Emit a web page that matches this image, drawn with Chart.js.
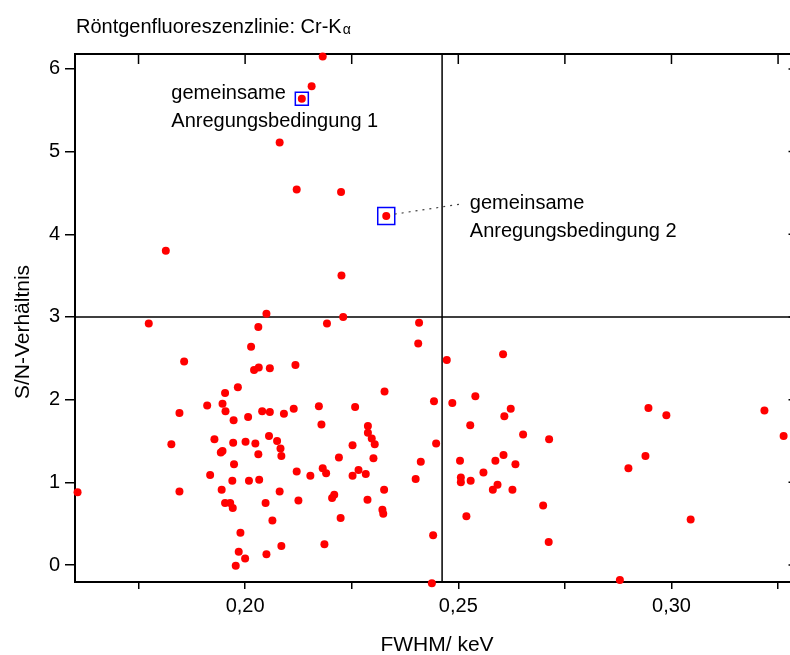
<!DOCTYPE html>
<html>
<head>
<meta charset="utf-8">
<script src="https://cdn.jsdelivr.net/npm/chart.js@4/dist/chart.umd.min.js"></script>
<style>
  body { margin: 0; background: #fff; overflow: hidden; }
</style>
</head>
<body>
<canvas id="myChart" width="790" height="655"></canvas>
<script>
// FWHM (keV) and S/N ratio of each measurement
const fwhm = [
  0.2182, 0.2156, 0.2133, 0.2081, 0.2121, 0.2225, 0.2331, 0.2226, 0.1814, 0.1774,
  0.2050, 0.2031, 0.2014, 0.1857, 0.2021, 0.2032, 0.2058, 0.2118, 0.1983, 0.1953,
  0.1911, 0.1947, 0.1954, 0.1846, 0.1973, 0.2007, 0.2040, 0.2058, 0.2091, 0.2114,
  0.2056, 0.2230, 0.2192, 0.2173, 0.2258, 0.2179, 0.2288, 0.2288, 0.2297, 0.2304,
  0.2252, 0.2301, 0.2220, 0.1928, 0.1972, 0.2001, 0.2024, 0.2075, 0.2083, 0.2085,
  0.2031, 0.1943, 0.1947, 0.1974, 0.1918, 0.1970, 0.2009, 0.2033, 0.2121, 0.2153,
  0.2182, 0.2190, 0.2266, 0.2252, 0.2283, 0.1846, 0.1945, 0.2081, 0.1953, 0.1965,
  0.1971, 0.2048, 0.2125, 0.2204, 0.2209, 0.2287, 0.2064, 0.2224, 0.1989, 0.2085,
  0.2186, 0.1985, 0.2000, 0.2050, 0.1978, 0.1607, 0.1827, 0.2408, 0.2406, 0.2473,
  0.2605, 0.2327, 0.2443, 0.2486, 0.2540, 0.2623, 0.2608, 0.2528, 0.2652, 0.2713,
  0.2448, 0.2412, 0.2400, 0.2326, 0.2322, 0.2324, 0.2504, 0.2506, 0.2506, 0.2529,
  0.2559, 0.2587, 0.2606, 0.2634, 0.2581, 0.2592, 0.2627, 0.2699, 0.2519, 0.2441,
  0.2712, 0.2438, 0.2946, 0.2988, 0.3218, 0.3263, 0.2939, 0.2899, 0.3045, 0.2879
];
const snRatio = [
  6.15, 5.79, 5.64, 5.11, 4.54, 4.51, 4.22, 3.50, 3.80, 2.92,
  3.04, 2.88, 2.64, 2.46, 2.36, 2.39, 2.38, 2.42, 2.15, 2.08,
  1.93, 1.95, 1.86, 1.84, 1.75, 1.79, 1.86, 1.85, 1.83, 1.89,
  1.56, 3.00, 2.92, 1.92, 1.91, 1.70, 1.68, 1.60, 1.53, 1.46,
  1.45, 1.29, 1.30, 1.52, 1.48, 1.49, 1.47, 1.50, 1.41, 1.32,
  1.34, 1.36, 1.38, 1.22, 1.09, 1.02, 1.02, 1.03, 1.13, 1.08,
  1.17, 1.11, 1.15, 1.08, 1.10, 0.89, 0.91, 0.89, 0.75, 0.75,
  0.69, 0.75, 0.78, 0.81, 0.85, 0.79, 0.54, 0.57, 0.39, 0.23,
  0.25, 0.16, 0.08, 0.13, -0.01, 0.88, 1.46, 2.93, 2.68, 2.48,
  2.55, 2.10, 1.98, 1.96, 2.04, 1.89, 1.80, 1.69, 1.58, 1.52,
  1.47, 1.25, 1.04, 0.91, 0.67, 0.62, 1.26, 1.06, 1.00, 1.02,
  1.12, 1.26, 1.33, 1.22, 0.91, 0.97, 0.91, 0.72, 0.59, 0.36,
  0.28, -0.22, 1.90, 1.81, 1.87, 1.56, 1.32, 1.17, 0.55, -0.18
];
// the two points with common excitation conditions (index into the arrays above)
const markedIdx = [2, 6];
const markedLabels = [
  ["gemeinsame", "Anregungsbedingung 1"],
  ["gemeinsame", "Anregungsbedingung 2"]
];

const xTickVals = [0.175, 0.2, 0.225, 0.25, 0.275, 0.3, 0.325];
const xTickLabels = ["", "0,20", "", "0,25", "", "0,30", ""];
const yTickVals = [0, 1, 2, 3, 4, 5, 6];
const yTickLabels = ["0", "1", "2", "3", "4", "5", "6"];

// threshold lines
const refX = 0.2462;
const refY = 3;
// the plot frame runs a little past the visible picture on the right
const xFrameMax = 0.3298;

const FONT = "'Liberation Sans', Arial, sans-serif";

const points = fwhm.map((v, i) => ({ x: v, y: snRatio[i] }));
const marked = markedIdx.map(i => points[i]);

// text anchors (data coords) and the box sizes
const notes = [
  { x: 0.1827, y: 5.63, line: false, box: 13 },
  { x: 0.2527, y: 4.31, line: true, box: 17 }
];

const extras = {
  id: "extras",
  beforeDatasetsDraw(chart) {
    const { ctx, chartArea: a, scales: { x, y } } = chart;
    const rightEdge = x.getPixelForValue(xFrameMax);
    ctx.save();
    ctx.strokeStyle = "#000";
    ctx.lineWidth = 1.5;
    const px = x.getPixelForValue(refX);
    const py = y.getPixelForValue(refY);
    ctx.beginPath();
    ctx.moveTo(px, a.top); ctx.lineTo(px, a.bottom);
    ctx.moveTo(a.left, py); ctx.lineTo(rightEdge, py);
    ctx.stroke();

    // top frame (and bottom axis continued) with inward ticks on top/right
    ctx.lineWidth = 2;
    ctx.beginPath();
    ctx.moveTo(a.left, a.top); ctx.lineTo(rightEdge, a.top);
    ctx.moveTo(a.right - 1, a.bottom); ctx.lineTo(rightEdge, a.bottom);
    ctx.stroke();
    ctx.lineWidth = 1.5;
    ctx.beginPath();
    x.ticks.forEach(t => {
      const p = x.getPixelForValue(t.value);
      ctx.moveTo(p, a.top); ctx.lineTo(p, a.top + 10);
    });
    y.ticks.forEach(t => {
      const p = y.getPixelForValue(t.value);
      ctx.moveTo(rightEdge, p); ctx.lineTo(rightEdge - 10, p);
    });
    ctx.stroke();
    ctx.restore();
  },
  afterDraw(chart) {
    const { ctx, scales: { x, y } } = chart;
    ctx.save();
    ctx.fillStyle = "#000";
    ctx.textAlign = "left";
    ctx.textBaseline = "alphabetic";

    // title with small alpha
    ctx.font = "20px " + FONT;
    const t = "Röntgenfluoreszenzlinie: Cr-K";
    ctx.fillText(t, 76, 33);
    const w = ctx.measureText(t).width;
    ctx.font = "14px " + FONT;
    ctx.fillText("α", 76 + w + 1, 34);

    // annotations
    notes.forEach((n, i) => {
      const tx = x.getPixelForValue(n.x);
      const ty = y.getPixelForValue(n.y);
      ctx.font = "20px " + FONT;
      ctx.fillStyle = "#000";
      markedLabels[i].forEach((s, k) => ctx.fillText(s, tx, ty + k * 28));
      if (n.line) {
        const p = marked[i];
        const mx = x.getPixelForValue(p.x) + n.box / 2;
        const my = y.getPixelForValue(p.y) - 2;
        ctx.strokeStyle = "#444";
        ctx.lineWidth = 1.2;
        ctx.setLineDash([2, 5]);
        ctx.beginPath();
        ctx.moveTo(mx, my);
        ctx.lineTo(tx - 6, ty - 5);
        ctx.stroke();
        ctx.setLineDash([]);
      }
    });

    // axis titles
    ctx.font = "21px " + FONT;
    ctx.textAlign = "center";
    ctx.fillText("FWHM/ keV", 437, 651);
    ctx.translate(23, 332);
    ctx.rotate(-Math.PI / 2);
    ctx.textBaseline = "middle";
    ctx.fillText("S/N-Verhältnis", 0, 0);
    ctx.restore();
  }
};

const canvas = document.getElementById("myChart");
new Chart(canvas, {
  type: "scatter",
  data: {
    datasets: [
      {
        data: points,
        backgroundColor: "#ff0000",
        borderWidth: 0,
        pointRadius: 4,
        clip: false
      },
      {
        data: marked,
        pointStyle: "rect",
        pointRadius: notes.map(n => n.box / Math.SQRT2),
        backgroundColor: "rgba(0,0,0,0)",
        borderColor: "#0000ff",
        borderWidth: 1.5
      }
    ]
  },
  options: {
    responsive: false,
    devicePixelRatio: 1,
    animation: false,
    events: [],
    layout: { autoPadding: false, padding: { top: 54, right: 0, left: 0, bottom: 0 } },
    plugins: {
      legend: { display: false },
      tooltip: { enabled: false }
    },
    scales: {
      x: {
        type: "linear",
        min: 0.1601,
        max: 0.3278,
        afterBuildTicks: s => { s.ticks = xTickVals.map(v => ({ value: v })); },
        afterFit: s => { s.height = 73; },
        grid: { drawOnChartArea: false, tickLength: 7, color: "#000", tickColor: "#000", lineWidth: 1.5 },
        border: { color: "#000", width: 2 },
        ticks: {
          color: "#000",
          font: { family: FONT, size: 20 },
          padding: 5,
          maxRotation: 0,
          autoSkip: false,
          callback: (v, i) => xTickLabels[i]
        }
      },
      y: {
        type: "linear",
        min: -0.205,
        max: 6.18,
        afterBuildTicks: s => { s.ticks = yTickVals.map(v => ({ value: v })); },
        afterFit: s => { s.width = 75; },
        grid: { drawOnChartArea: false, tickLength: 10, color: "#000", tickColor: "#000", lineWidth: 1.5 },
        border: { color: "#000", width: 2 },
        ticks: {
          color: "#000",
          font: { family: FONT, size: 20 },
          padding: 5,
          autoSkip: false,
          callback: (v, i) => yTickLabels[i]
        }
      }
    }
  },
  plugins: [extras]
});
</script>
</body>
</html>
